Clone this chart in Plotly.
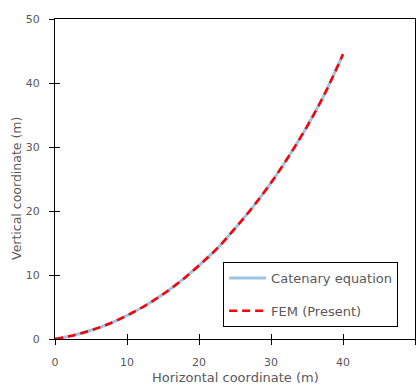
import plotly.graph_objects as go

x_vals = [0, 2.5, 5, 7.5, 10, 12.5, 15, 17.5, 20, 22.5, 25, 27.5, 30, 32.5, 35, 37.5, 40]
y_catenary = [0, 0.56, 1.36, 2.38, 3.67, 5.2, 6.99, 9.08, 11.49, 14.12, 17.28, 20.65, 24.4, 28.6, 33.2, 38.4, 44.5]
y_fem = [0, 0.56, 1.36, 2.38, 3.67, 5.2, 6.99, 9.08, 11.49, 14.12, 17.28, 20.65, 24.4, 28.6, 33.2, 38.4, 44.5]
tick_vals = [0, 10, 20, 30, 40, 50]

FONT = "DejaVu Sans"
GRAY = "#595959"

fig = go.Figure()
fig.add_trace(go.Scatter(x=x_vals, y=y_catenary, mode="lines", name="Catenary equation",
                         line=dict(color="#9DC3E6", width=3, shape="spline"),
                         legendgroup="a"))
fig.add_trace(go.Scatter(x=x_vals, y=y_fem, mode="lines", name="FEM (Present)",
                         line=dict(color="#FF0000", width=2.5, dash="8px,5px", shape="spline"),
                         legendgroup="b"))
# invisible traces on overlay axes that carry the visible tick marks
for xa, ya in (("x2", "y2"), ("x3", "y3")):
    fig.add_trace(go.Scatter(x=[0, 50], y=[0, 50], xaxis=xa, yaxis=ya, mode="markers",
                             marker=dict(opacity=0), showlegend=False, hoverinfo="skip"))

# main axes: labels only (transparent long ticks just push labels away from the axis)
main_common = dict(range=[0, 50], tickvals=tick_vals, showgrid=False, zeroline=False,
                   showline=True, linecolor="black", linewidth=1.2, mirror=True,
                   ticks="outside", tickwidth=1, tickcolor="rgba(0,0,0,0)",
                   automargin=False,
                   tickfont=dict(family=FONT, size=11, color=GRAY))

def tick_axis(side, overlay):
    return dict(overlaying=overlay, range=[0, 50], tickvals=tick_vals, showgrid=False,
                zeroline=False, showline=False, ticks=side, ticklen=5, tickwidth=1.2,
                tickcolor="black", showticklabels=False, automargin=False)

fig.update_layout(
    width=419, height=385,
    margin=dict(l=55, r=4, t=19, b=46),
    paper_bgcolor="white", plot_bgcolor="white",
    font=dict(family=FONT, color=GRAY),
    xaxis=dict(**main_common, ticklen=13),
    yaxis=dict(**main_common, ticklen=12),
    xaxis2=tick_axis("inside", "x"),
    yaxis2=tick_axis("inside", "y"),
    xaxis3=tick_axis("outside", "x"),
    yaxis3=tick_axis("outside", "y"),
    legend=dict(x=0.467, y=0.0375, xanchor="left", yanchor="bottom",
                bordercolor="black", borderwidth=1, bgcolor="white",
                font=dict(family=FONT, size=13, color=GRAY), itemwidth=37,
                traceorder="grouped", tracegroupgap=13),
    annotations=[
        dict(text="Vertical coordinate (m)", textangle=-90, xref="paper", yref="paper",
             x=-0.1056, y=0.472, xanchor="center", yanchor="middle", showarrow=False,
             font=dict(family=FONT, size=12.5, color=GRAY)),
        dict(text="Horizontal coordinate (m)", xref="paper", yref="paper",
             x=0.5, y=-0.11875, xanchor="center", yanchor="middle", showarrow=False,
             font=dict(family=FONT, size=13, color=GRAY)),
    ],
)

fig.write_html("out.html", post_script="document.body.style.margin='0px';",
               config={"displayModeBar": False})
